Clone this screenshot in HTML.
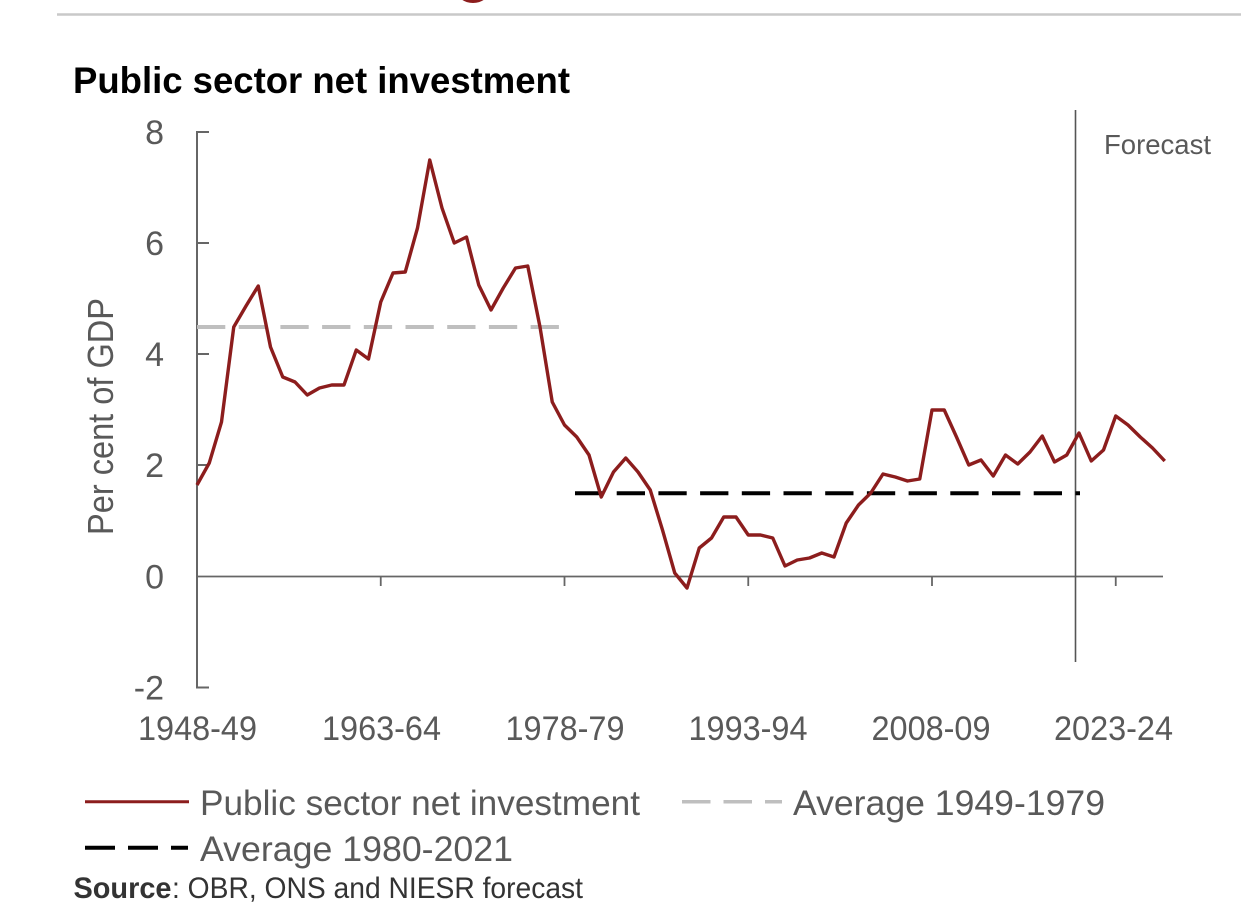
<!DOCTYPE html>
<html>
<head>
<meta charset="utf-8">
<style>
  html, body { margin:0; padding:0; background:#fff; }
  body { width:1241px; height:921px; overflow:hidden; }
  svg { display:block; }
  text { font-family: "Liberation Sans", sans-serif; }
</style>
</head>
<body>
<svg width="1241" height="921" viewBox="0 0 1241 921" xmlns="http://www.w3.org/2000/svg">
  <rect x="0" y="0" width="1241" height="921" fill="#ffffff"/>
  <!-- top decorations -->
  <line x1="57" y1="14.5" x2="1241" y2="14.5" stroke="#c9c9c9" stroke-width="2.5"/>
  <ellipse cx="473" cy="-9" rx="16" ry="12" fill="#8c1d1d"/>

  <!-- title -->
  <text x="73" y="93" font-size="37" font-weight="bold" fill="#000" textLength="497" lengthAdjust="spacingAndGlyphs">Public sector net investment</text>

  <!-- y axis -->
  <g stroke="#666" stroke-width="2" fill="none">
    <line x1="197" y1="131" x2="197" y2="688.5"/>
    <line x1="197" y1="132" x2="209" y2="132"/>
    <line x1="197" y1="243" x2="209" y2="243"/>
    <line x1="197" y1="354" x2="209" y2="354"/>
    <line x1="197" y1="465" x2="209" y2="465"/>
    <line x1="197" y1="687.5" x2="209" y2="687.5"/>
  </g>
  <!-- x axis at zero -->
  <g stroke="#666" stroke-width="1.8" fill="none">
    <line x1="197" y1="576.5" x2="1163" y2="576.5"/>
    <line x1="380.75" y1="576.5" x2="380.75" y2="586"/>
    <line x1="564.5" y1="576.5" x2="564.5" y2="586"/>
    <line x1="748.25" y1="576.5" x2="748.25" y2="586"/>
    <line x1="932" y1="576.5" x2="932" y2="586"/>
    <line x1="1115.75" y1="576.5" x2="1115.75" y2="586"/>
  </g>

  <!-- y tick labels -->
  <g font-size="34" fill="#595959" text-anchor="end">
    <text x="164" y="144">8</text>
    <text x="164" y="255">6</text>
    <text x="164" y="366">4</text>
    <text x="164" y="477">2</text>
    <text x="164" y="588.5">0</text>
    <text x="164" y="699.5">-2</text>
  </g>

  <!-- y axis title -->
  <text transform="translate(113,416.5) rotate(-90)" x="0" y="0" font-size="36" fill="#595959" text-anchor="middle" textLength="237" lengthAdjust="spacingAndGlyphs">Per cent of GDP</text>

  <!-- x tick labels -->
  <g font-size="34" fill="#595959" text-anchor="middle">
    <text x="197.5" y="740" textLength="119" lengthAdjust="spacingAndGlyphs">1948-49</text>
    <text x="381.5" y="740" textLength="119" lengthAdjust="spacingAndGlyphs">1963-64</text>
    <text x="565" y="740" textLength="119" lengthAdjust="spacingAndGlyphs">1978-79</text>
    <text x="748" y="740" textLength="119" lengthAdjust="spacingAndGlyphs">1993-94</text>
    <text x="931" y="740" textLength="119" lengthAdjust="spacingAndGlyphs">2008-09</text>
    <text x="1113.5" y="740" textLength="119" lengthAdjust="spacingAndGlyphs">2023-24</text>
  </g>

  <!-- forecast divider -->
  <line x1="1075.5" y1="110" x2="1075.5" y2="662" stroke="#555" stroke-width="1.6"/>
  <text x="1104" y="154" font-size="28" fill="#595959" textLength="107" lengthAdjust="spacingAndGlyphs">Forecast</text>

  <!-- average lines -->
  <line x1="197" y1="327" x2="559" y2="327" stroke="#bfbfbf" stroke-width="4" stroke-dasharray="28.3 13.4"/>
  <line x1="575" y1="493.3" x2="1080" y2="493.3" stroke="#000" stroke-width="4" stroke-dasharray="28.3 13.4"/>

  <!-- main series -->
  <polyline fill="none" stroke="#8c1d1d" stroke-width="3.4" stroke-linejoin="round" points="
197,485 209.25,463 221.5,422 233.75,327 246,306 258.25,286 270.5,347 282.75,377 295,382 307.25,395
319.5,388 331.75,385 344,385 356.25,350 368.5,359 380.75,302 393,273 405.25,272 417.5,228 429.75,160
442,208 454.25,243 466.5,237 478.75,285 491,310 503.25,288 515.5,268 527.75,266 540,327 552.25,402
564.5,425 576.75,437 589,455 601.25,497 613.5,472 625.75,458 638,472 650.25,490 662.5,530 674.75,573
687,588 699.25,548 711.5,538 723.75,517 736,517 748.25,535 760.5,535 772.75,538 785,566 797.25,560
809.5,558 821.75,553 834,557 846.25,523 858.5,505 870.75,493 883,474 895.25,477 907.5,481 919.75,479
932,410 944.25,410 956.5,437 968.75,465 981,460 993.25,476 1005.5,455 1017.75,464 1030,452 1042.25,436
1054.5,462 1066.75,455 1079,433 1091.25,461 1103.5,450 1115.75,416 1128,425 1140.25,437 1152.5,448 1164.75,461"/>

  <!-- legend -->
  <line x1="85" y1="801.7" x2="189" y2="801.7" stroke="#8c1d1d" stroke-width="3"/>
  <text x="200" y="815" font-size="35" fill="#595959" textLength="440" lengthAdjust="spacingAndGlyphs">Public sector net investment</text>

  <line x1="682" y1="801.7" x2="782" y2="801.7" stroke="#bfbfbf" stroke-width="3.5" stroke-dasharray="28.5 13"/>
  <text x="793" y="815" font-size="35" fill="#595959" textLength="312" lengthAdjust="spacingAndGlyphs">Average 1949-1979</text>

  <line x1="85" y1="847.7" x2="188" y2="847.7" stroke="#000" stroke-width="4" stroke-dasharray="30 13"/>
  <text x="200" y="861" font-size="35" fill="#595959" textLength="313" lengthAdjust="spacingAndGlyphs">Average 1980-2021</text>

  <!-- source -->
  <text x="73.5" y="898" font-size="30" font-weight="bold" fill="#333" textLength="98" lengthAdjust="spacingAndGlyphs">Source</text>
  <text x="172" y="898" font-size="30" fill="#333" textLength="411" lengthAdjust="spacingAndGlyphs">: OBR, ONS and NIESR forecast</text>
</svg>
</body>
</html>
